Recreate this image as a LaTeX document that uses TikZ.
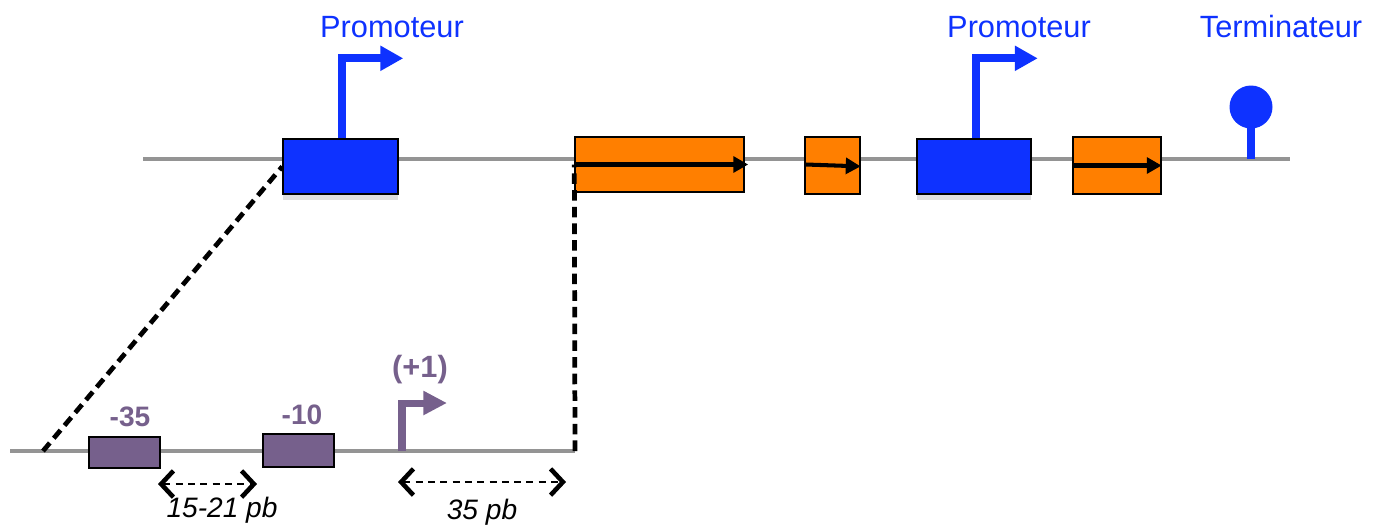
\documentclass[tikz,border=0pt]{standalone}
\usepackage{fontspec}
\setmainfont{Liberation Sans}
\usepackage{xcolor}
\usetikzlibrary{arrows.meta}
\definecolor{promblue}{RGB}{14,50,255}
\definecolor{cdsorange}{RGB}{255,127,0}
\definecolor{sitepurple}{RGB}{118,96,140}
\definecolor{dnagray}{RGB}{148,148,148}

\begin{document}
\begin{tikzpicture}[x=0.02cm, y=-0.02cm,
    dna/.style={draw=dnagray, line width=2.8pt},
    part/.style={draw=black, line width=0.8pt, inner sep=0pt},
    prom/.style={part, fill=promblue, minimum width=2.3cm, minimum height=1.1cm},
    cds/.style={part, fill=cdsorange},
    site/.style={part, fill=sitepurple, minimum width=1.42cm},
    promarrow/.style={draw=promblue, line width=4.4pt, -{Triangle[length=13pt,width=13.5pt]}},
    tssarrow/.style={draw=sitepurple, line width=4pt, -{Triangle[length=13.5pt,width=13pt]}},
    cdsarrow/.style={draw=black, line width=2.3pt, -{Triangle[length=8.5pt,width=9pt]}},
    zoomline/.style={draw=black, line width=2.7pt, dash pattern=on 6pt off 3.5pt},
    dimarrow/.style={draw=black, line width=1.1pt, dash pattern=on 4pt off 3pt,
        {Straight Barb[length=7pt,width=15pt,line width=2.6pt]}-{Straight Barb[length=7pt,width=15pt,line width=2.6pt]}},
    partlabel/.style={text=promblue, font=\fontsize{17.5}{20}\selectfont},
    sitelabel/.style={text=sitepurple, font=\bfseries\fontsize{16}{18}\selectfont},
    pblabel/.style={font=\itshape\fontsize{16}{18}\selectfont}]
\useasboundingbox (0,0) rectangle (1382,529);

% operon
\coordinate (topL) at (143,159);
\coordinate (topR) at (1290,159);
\draw[dna] (topL) -- (topR);

\fill[gray!25] ([yshift=-0.4pt]283,194) rectangle (398,200);
\fill[gray!25] ([yshift=-0.4pt]917,194) rectangle (1031,200);

\node[prom] (prom1) at (340.5,166.5) {};
\node[cds, minimum width=3.38cm, minimum height=1.1cm] (cds1) at (659.5,164.5) {};
\node[cds, minimum width=1.1cm, minimum height=1.14cm] (cds2) at (832.5,165.5) {};
\node[prom, minimum width=2.28cm] (prom2) at (974,166.5) {};
\node[cds, minimum width=1.76cm, minimum height=1.14cm] (cds3) at (1117,165.5) {};

\draw[promarrow] ([xshift=1pt]prom1.north) |- ++(61,-80);
\draw[promarrow] ([xshift=1pt]prom2.north) |- ++(62,-80);

\draw[cdsarrow] (cds1.west) -- ([xshift=2pt]cds1.east);
\draw[cdsarrow] ([yshift=0.6pt]cds2.west) -- ([yshift=-0.5pt]cds2.east);
\draw[cdsarrow] (cds3.west) -- (cds3.east);

% terminateur
\coordinate (termbase) at (1251,159);
\node[circle, fill=promblue, inner sep=0pt, minimum size=0.86cm] (term) at (1251,107) {};
\draw[promblue, line width=4.5pt] (termbase) -- (term.center);

\node[partlabel] (lblprom1) at (392,27) {Promoteur};
\node[partlabel] (lblprom2) at (1019,27) {Promoteur};
\node[partlabel] (lblterm) at (1281,27) {Terminateur};

% detail du promoteur
\coordinate (botL) at (10,451);
\coordinate (botR) at (575,451);
\draw[dna] (botL) -- (botR);

\node[site, minimum height=0.62cm] (box35) at (124.5,452.5) {};
\node[site, minimum height=0.66cm] (box10) at (298.5,450.5) {};
\node[sitelabel] (lbl35) at (130,417) {-35};
\node[sitelabel] (lbl10) at (302,415) {-10};

\coordinate (tss) at (402,451);
\draw[tssarrow] (tss) |- ++(45,-48);
\node[sitelabel, font=\bfseries\fontsize{17.5}{20}\selectfont] (lbltss) at (420,370) {(+1)};

\coordinate (zoomL) at (43,451);
\draw[zoomline] (zoomL) -- (prom1.west);
\draw[zoomline] (botR) -- (cds1.west);

% distances
\coordinate (d1a) at (158,484);
\coordinate (d1b) at (257,484);
\coordinate (d2a) at (398,482);
\coordinate (d2b) at (566,482);
\draw[dimarrow] (d1a) -- (d1b);
\draw[dimarrow] (d2a) -- (d2b);
\node[pblabel] (lbld1) at (222,510) {15-21 pb};
\node[pblabel] (lbld2) at (482,512) {35 pb};
\end{tikzpicture}
\end{document}
